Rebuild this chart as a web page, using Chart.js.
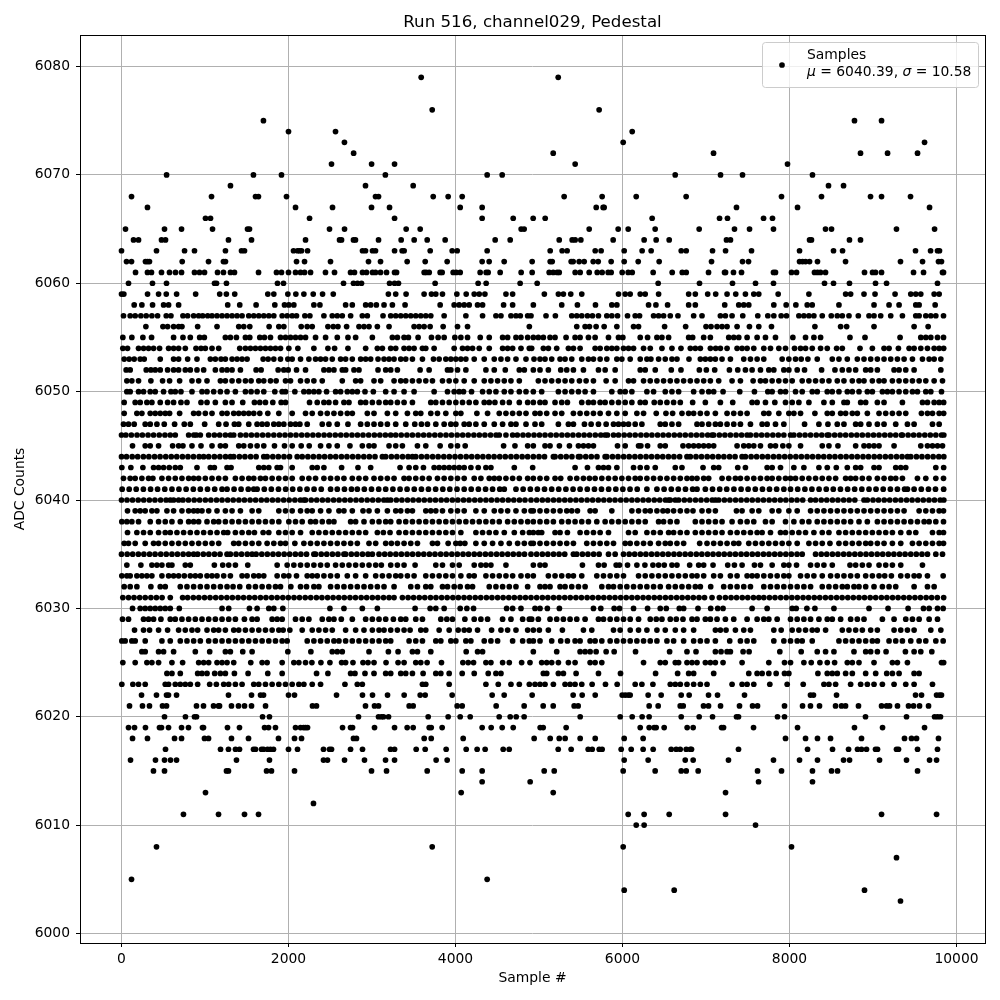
<!DOCTYPE html>
<html>
<head>
<meta charset="utf-8">
<style>body{margin:0;background:#fff}canvas{display:block}</style>
<script src="https://cdn.jsdelivr.net/npm/chart.js@4"></script>
</head>
<body>
<canvas id="myChart" width="1000" height="1000"></canvas>
<script>
const titleText = 'Run 516, channel029, Pedestal';
const xLabel = 'Sample #';
const yLabel = 'ADC Counts';
const xTicks = [0, 2000, 4000, 6000, 8000, 10000];
const yTicks = [6000, 6010, 6020, 6030, 6040, 6050, 6060, 6070, 6080];

// sample numbers, one list per ADC level
const s6079 = [3589, 5230];
const s6076 = [3721, 5720];
const s6075 = [1700, 8778, 9102];
const s6074 = [2000, 2563, 6116];
const s6073 = [2670, 6008, 9617];
const s6072 = [2780, 5170, 7090, 8850, 9174, 9533];
const s6071 = [2515, 2995, 3270, 5433, 7976];
const s6070 = [540, 1580, 1916, 3160, 4379, 4559, 6631, 7174, 7437, 8275];
const s6069 = [1305, 2922, 3493, 8467, 8647];
const s6068 = [120, 1078, 1605, 1640, 1976, 3042, 3078, 3733, 3912, 4080, 5301, 5756, 6164, 6762, 7904, 8383, 8970, 9102, 9449];
const s6067 = [311, 2084, 2527, 2994, 3210, 4056, 4319, 5685, 5768, 5780, 7365, 8096, 9677];
const s6066 = [1006, 1066, 2252, 3270, 4319, 4691, 4930, 5074, 6355, 7162, 7257, 7689, 7796];
const s6065 = [48, 515, 719, 1090, 1509, 1533, 2491, 2671, 3409, 3577, 4786, 4822, 5601, 5948, 6068, 6391, 6918, 7341, 7521, 7808, 8431, 8503, 9281, 9737];
const s6064 = [144, 204, 479, 527, 1281, 1557, 2204, 2611, 2635, 2778, 2802, 3078, 3349, 3505, 3661, 3876, 4475, 4655, 5242, 5397, 5433, 5501, 5888, 6259, 6403, 6559, 7245, 7293, 8240, 8263, 8718, 8850];
const s6063 = [0, 419, 755, 874, 1245, 1437, 1473, 2060, 2108, 2132, 2156, 2228, 2886, 2922, 3006, 3042, 3270, 3361, 3385, 3697, 3960, 4020, 4379, 5134, 5277, 5337, 5673, 5744, 6020, 6235, 6343, 6703, 6763, 7078, 7234, 7545, 8120, 8527, 8635, 9509, 9689, 9772, 9796];
const s6062 = [60, 120, 287, 311, 335, 727, 1042, 1221, 1245, 2096, 2192, 2503, 2958, 3102, 3421, 3637, 3900, 4319, 4403, 4583, 4918, 5134, 5158, 5385, 5409, 5481, 5541, 5649, 5709, 5864, 6020, 6188, 6439, 7066, 7437, 7509, 8120, 8156, 8192, 8240, 8335, 8671, 9329, 9593, 9784, 9820];
const s6061 = [168, 311, 359, 479, 575, 647, 719, 874, 934, 994, 1150, 1221, 1305, 1353, 1641, 1856, 1916, 2000, 2084, 2144, 2192, 2264, 2443, 2551, 2743, 2790, 2886, 2934, 3006, 3042, 3102, 3174, 3270, 3294, 3625, 3649, 3685, 3816, 3840, 3972, 4008, 4056, 4295, 4367, 4391, 4535, 4786, 4918, 5122, 5170, 5217, 5242, 5433, 5493, 5601, 5697, 5756, 5828, 5864, 5996, 6068, 6116, 6367, 6595, 6715, 6763, 7030, 7222, 7234, 7329, 7425, 7808, 7832, 8024, 8084, 8299, 8335, 8371, 8431, 8898, 8994, 9030, 9102, 9485, 9605, 9832, 9844];
const s6060 = [84, 371, 539, 1114, 1138, 1257, 1868, 1940, 2659, 2778, 2826, 2874, 3210, 3270, 3317, 3756, 4271, 4367, 4774, 4978, 6427, 6922, 7317, 7593, 7808, 8419, 8527, 8718, 9030, 9162, 9772];
const s6059 = [0, 28, 312, 444, 536, 660, 888, 1176, 1256, 1356, 1752, 1824, 1992, 2088, 2184, 2296, 2408, 2536, 3196, 3284, 3408, 3624, 3712, 3764, 3844, 4016, 4128, 4224, 4284, 4352, 4604, 4684, 5064, 5232, 5292, 5380, 5512, 5952, 6032, 6092, 6212, 6272, 6432, 6792, 6872, 7020, 7116, 7252, 7356, 7472, 7572, 7632, 7864, 8232, 8672, 8732, 8892, 9024, 9264, 9452, 9512, 9572, 9732, 9792];
const s6058 = [152, 244, 372, 504, 564, 684, 1272, 1416, 1612, 1836, 1952, 2004, 2064, 2304, 2376, 2684, 2764, 2924, 2984, 3052, 3144, 3244, 3396, 3816, 3984, 4044, 4104, 4164, 4264, 4324, 4576, 4684, 4932, 5272, 5460, 5676, 5872, 5932, 6312, 6400, 6540, 6792, 6872, 7224, 7392, 7452, 7512, 7812, 7960, 8076, 8212, 8272, 8592, 9012, 9192, 9312, 9512, 9552, 9744];
const s6057 = [24, 104, 164, 232, 296, 364, 432, 536, 592, 736, 792, 864, 924, 972, 1032, 1084, 1144, 1204, 1264, 1324, 1384, 1444, 1524, 1584, 1644, 1704, 1764, 1824, 1924, 1984, 2044, 2096, 2196, 2256, 2424, 2524, 2584, 2644, 2744, 2884, 2944, 3132, 3224, 3284, 3344, 3404, 3464, 3524, 3584, 3644, 3704, 3864, 4124, 4324, 4484, 4544, 4664, 4724, 4776, 4864, 4904, 5084, 5196, 5392, 5452, 5512, 5580, 5640, 5712, 5812, 5872, 5940, 6060, 6152, 6204, 6372, 6432, 6492, 6572, 6664, 6852, 6952, 7172, 7232, 7312, 7440, 7620, 7740, 7812, 7900, 7964, 8112, 8172, 8232, 8292, 8392, 8500, 8572, 8632, 8712, 8824, 8952, 9012, 9092, 9212, 9352, 9512, 9552, 9632, 9692, 9752, 9844];
const s6056 = [292, 496, 552, 624, 684, 724, 912, 1144, 1404, 1464, 1536, 1768, 1884, 1944, 2152, 2224, 2284, 2472, 2536, 2592, 2696, 2844, 2904, 2964, 3064, 3204, 3504, 3564, 3624, 3696, 3852, 4024, 4144, 4884, 5452, 5552, 5604, 5684, 5780, 5932, 6132, 6192, 6504, 6756, 7000, 7060, 7132, 7192, 7252, 7372, 7520, 7632, 7784, 8304, 8612, 8684, 9012, 9492, 9660];
const s6055 = [16, 124, 256, 360, 624, 736, 824, 936, 992, 1244, 1304, 1376, 1484, 1536, 1656, 1712, 1784, 1904, 1964, 2024, 2084, 2144, 2204, 2324, 2444, 2584, 2712, 2804, 3004, 3244, 3304, 3384, 3436, 3552, 3712, 3792, 3864, 3992, 4064, 4144, 4296, 4404, 4564, 4624, 4724, 4784, 4864, 4932, 4992, 5052, 5132, 5192, 5324, 5432, 5492, 5592, 5672, 5832, 5952, 6004, 6212, 6300, 6412, 6472, 6552, 6792, 6840, 6972, 7052, 7272, 7332, 7392, 7492, 7612, 7712, 7832, 8040, 8192, 8292, 8372, 8724, 8904, 9324, 9572, 9632, 9692, 9772, 9844];
const s6054 = [16, 72, 204, 264, 324, 384, 456, 564, 624, 684, 764, 892, 952, 1004, 1084, 1164, 1416, 1484, 1544, 1604, 1664, 1724, 1784, 1844, 1904, 2004, 2112, 2304, 2472, 2552, 2712, 2924, 3064, 3124, 3224, 3284, 3384, 3444, 3504, 3604, 3644, 3744, 3984, 4084, 4144, 4204, 4284, 4404, 4564, 4624, 4684, 4784, 4884, 4912, 5052, 5112, 5212, 5352, 5412, 5492, 5672, 5732, 5812, 5872, 5932, 6012, 6072, 6132, 6252, 6332, 6472, 6592, 6700, 6812, 6872, 6932, 7052, 7116, 7172, 7252, 7372, 7432, 7492, 7572, 7692, 7772, 7872, 7952, 8060, 8132, 8192, 8272, 8372, 8452, 8564, 8632, 8844, 8992, 9132, 9192, 9304, 9432, 9492, 9572, 9652, 9732, 9792, 9846];
const s6053 = [32, 92, 152, 224, 272, 464, 624, 684, 792, 904, 1064, 1124, 1192, 1244, 1324, 1384, 1444, 1504, 1696, 1756, 1824, 1904, 1992, 2044, 2144, 2244, 2324, 2384, 2444, 2524, 2624, 2684, 2764, 2864, 2924, 2984, 3072, 3144, 3204, 3264, 3344, 3404, 3484, 3604, 3736, 3804, 3884, 3944, 4004, 4064, 4124, 4224, 4344, 4464, 4544, 4624, 4724, 4844, 4940, 5012, 5072, 5152, 5252, 5312, 5392, 5512, 5592, 5652, 5732, 5812, 5932, 5992, 6092, 6212, 6292, 6340, 6432, 6512, 6592, 6652, 6796, 6932, 6992, 7052, 7112, 7192, 7292, 7452, 7532, 7612, 7692, 7912, 7992, 8072, 8140, 8220, 8332, 8512, 8592, 8692, 8812, 8892, 8972, 9052, 9132, 9212, 9292, 9372, 9472, 9592, 9672, 9732, 9812];
const s6052 = [56, 104, 296, 352, 404, 464, 552, 624, 684, 764, 824, 904, 984, 1124, 1204, 1264, 1324, 1424, 1612, 1672, 1876, 1944, 1996, 2096, 2204, 2424, 2484, 2544, 2644, 2684, 2784, 2844, 3072, 3164, 3224, 3304, 3576, 3684, 3904, 3944, 4024, 4124, 4364, 4464, 4596, 4764, 4824, 4932, 5012, 5112, 5260, 5332, 5412, 5532, 5712, 5792, 5912, 6212, 6272, 6392, 6584, 6700, 6920, 7004, 7104, 7280, 7380, 7472, 7552, 7652, 7752, 7812, 7932, 7992, 8092, 8180, 8384, 8544, 8632, 8712, 8792, 8912, 8972, 9052, 9252, 9312, 9392, 9492, 9812];
const s6051 = [64, 124, 204, 352, 492, 576, 696, 844, 924, 1024, 1184, 1244, 1324, 1404, 1484, 1552, 1644, 1704, 1784, 1852, 1964, 2024, 2144, 2224, 2304, 2404, 2644, 2804, 2864, 3024, 3104, 3264, 3344, 3404, 3484, 3564, 3644, 3724, 3844, 3924, 4004, 4104, 4224, 4344, 4424, 4504, 4584, 4664, 4764, 4992, 5072, 5152, 5232, 5312, 5392, 5484, 5564, 5652, 5804, 5912, 6072, 6132, 6252, 6332, 6412, 6492, 6572, 6652, 6732, 6812, 6892, 6972, 7052, 7152, 7312, 7412, 7564, 7652, 7712, 7792, 7872, 7952, 8032, 8152, 8232, 8312, 8392, 8472, 8572, 8652, 8752, 8832, 8892, 8992, 9072, 9132, 9232, 9312, 9392, 9472, 9552, 9632, 9732, 9832];
const s6050 = [64, 104, 204, 264, 344, 404, 504, 592, 644, 712, 844, 964, 1024, 1104, 1184, 1264, 1364, 1484, 1552, 1624, 1704, 1836, 1924, 1964, 2076, 2184, 2244, 2304, 2364, 2456, 2564, 2624, 2704, 2764, 2824, 2916, 3016, 3164, 3264, 3384, 3504, 3744, 3904, 3984, 4044, 4096, 4192, 4324, 4404, 4484, 4584, 4664, 4764, 4844, 4932, 5032, 5232, 5312, 5392, 5472, 5552, 5652, 5872, 5972, 6032, 6112, 6292, 6372, 6512, 6592, 6672, 6852, 6952, 7032, 7092, 7204, 7404, 7580, 7740, 7792, 7892, 7952, 8072, 8152, 8272, 8332, 8452, 8512, 8592, 8692, 8752, 8832, 8932, 8992, 9112, 9172, 9232, 9312, 9392, 9472, 9532, 9632, 9692, 9820];
const s6049 = [32, 164, 224, 304, 364, 464, 552, 624, 712, 784, 952, 1024, 1124, 1244, 1324, 1452, 1592, 1656, 1724, 1812, 1912, 1964, 2252, 2344, 2424, 2484, 2564, 2664, 2724, 2864, 2924, 3004, 3084, 3164, 3224, 3304, 3384, 3484, 3704, 3764, 3844, 3924, 4004, 4084, 4164, 4244, 4344, 4404, 4472, 4564, 4644, 4764, 4864, 4932, 5012, 5072, 5192, 5272, 5340, 5512, 5592, 5652, 5732, 5792, 5872, 5952, 6032, 6112, 6212, 6272, 6380, 6452, 6532, 6612, 6692, 6840, 6992, 7172, 7320, 7552, 7612, 7712, 7824, 7952, 8032, 8112, 8232, 8412, 8512, 8652, 8692, 8852, 8912, 9052, 9132, 9352, 9592, 9652, 9732, 9792, 9846];
const s6048 = [32, 184, 244, 344, 404, 464, 524, 576, 696, 864, 924, 1004, 1084, 1204, 1264, 1344, 1404, 1464, 1524, 1584, 1656, 1752, 1884, 2044, 2204, 2284, 2384, 2464, 2544, 2624, 2704, 2764, 2944, 3024, 3184, 3284, 3424, 3524, 3584, 3704, 3784, 3884, 4004, 4064, 4256, 4384, 4524, 4604, 4684, 4764, 4844, 4952, 5012, 5092, 5192, 5272, 5412, 5492, 5572, 5652, 5732, 5832, 5932, 6032, 6172, 6252, 6404, 6520, 6600, 6712, 6792, 6852, 6932, 7012, 7112, 7252, 7332, 7412, 7492, 7692, 7752, 7872, 7992, 8052, 8132, 8304, 8452, 8512, 8612, 8672, 8752, 8812, 8932, 9072, 9152, 9232, 9312, 9392, 9580, 9652, 9712, 9792, 9846];
const s6047 = [24, 84, 152, 284, 344, 424, 512, 636, 752, 824, 996, 1164, 1252, 1352, 1404, 1524, 1624, 1684, 1744, 1824, 1884, 1944, 2024, 2084, 2136, 2224, 2404, 2484, 2584, 2712, 2864, 2944, 3024, 3104, 3184, 3284, 3404, 3512, 3592, 3664, 3764, 3864, 3944, 4004, 4104, 4164, 4244, 4344, 4464, 4564, 4664, 4724, 4844, 4952, 5032, 5232, 5352, 5412, 5544, 5624, 5712, 5804, 5892, 5952, 6012, 6072, 6152, 6232, 6452, 6512, 6592, 6672, 6892, 6952, 7032, 7112, 7172, 7252, 7332, 7412, 7532, 7672, 7732, 7832, 7932, 8180, 8352, 8460, 8572, 8652, 8792, 8852, 8952, 9052, 9132, 9272, 9412, 9492, 9712, 9792];
const s6046 = [0, 52, 118, 186, 250, 318, 384, 452, 520, 584, 644, 804, 866, 896, 944, 1044, 1112, 1176, 1244, 1304, 1344, 1424, 1490, 1556, 1622, 1690, 1756, 1824, 1892, 1958, 2024, 2090, 2158, 2224, 2292, 2358, 2426, 2492, 2560, 2626, 2692, 2760, 2826, 2892, 2960, 3028, 3094, 3160, 3224, 3284, 3350, 3418, 3484, 3552, 3618, 3684, 3752, 3818, 3886, 3952, 4020, 4086, 4152, 4220, 4286, 4352, 4420, 4486, 4524, 4604, 4684, 4740, 4808, 4872, 4940, 5006, 5072, 5140, 5206, 5274, 5340, 5406, 5474, 5540, 5606, 5674, 5740, 5792, 5820, 5892, 5952, 6020, 6086, 6152, 6220, 6286, 6352, 6420, 6486, 6552, 6620, 6686, 6752, 6820, 6886, 6952, 7020, 7072, 7092, 7160, 7226, 7292, 7360, 7426, 7492, 7532, 7600, 7666, 7732, 7800, 7866, 7932, 8012, 8052, 8120, 8186, 8252, 8320, 8386, 8452, 8472, 8540, 8606, 8672, 8740, 8806, 8872, 8940, 9006, 9072, 9140, 9206, 9272, 9340, 9352, 9420, 9486, 9552, 9620, 9686, 9752, 9820, 9848];
const s6045 = [132, 284, 344, 444, 612, 684, 736, 844, 952, 1084, 1184, 1244, 1404, 1464, 1544, 1624, 1704, 1832, 1952, 2044, 2152, 2248, 2384, 2484, 2584, 2736, 2884, 2964, 3024, 3204, 3284, 3364, 3544, 3644, 3816, 3944, 4024, 4116, 4576, 4712, 4864, 4932, 5072, 5132, 5244, 5364, 5472, 5532, 5592, 5652, 5940, 6032, 6192, 6220, 6300, 6452, 6512, 6724, 6792, 6852, 6912, 6972, 7032, 7092, 7372, 7452, 7512, 7572, 7652, 7772, 7832, 7920, 7992, 8132, 8392, 8472, 8580, 8792, 8892, 8952, 9012, 9072, 9252, 9572, 9652, 9712, 9772, 9832];
const s6044 = [0, 60, 128, 194, 262, 328, 396, 462, 530, 596, 662, 730, 796, 862, 930, 984, 1044, 1112, 1178, 1246, 1304, 1344, 1412, 1478, 1546, 1612, 1704, 1744, 1812, 1878, 1946, 2012, 2104, 2164, 2232, 2298, 2366, 2432, 2500, 2566, 2634, 2700, 2768, 2834, 2902, 2968, 3036, 3124, 3164, 3232, 3298, 3366, 3432, 3484, 3524, 3592, 3658, 3726, 3792, 3860, 3926, 3994, 4060, 4128, 4194, 4262, 4328, 4396, 4462, 4530, 4596, 4664, 4730, 4798, 4864, 4932, 5000, 5066, 5172, 5192, 5260, 5326, 5394, 5472, 5492, 5560, 5626, 5694, 5792, 5812, 5880, 5946, 6014, 6080, 6148, 6214, 6282, 6348, 6416, 6482, 6550, 6616, 6684, 6772, 6812, 6880, 6946, 7014, 7080, 7148, 7214, 7282, 7348, 7432, 7472, 7540, 7606, 7674, 7740, 7808, 7874, 7942, 8008, 8076, 8142, 8210, 8276, 8344, 8410, 8478, 8544, 8612, 8678, 8746, 8812, 8880, 8946, 9014, 9080, 9148, 9214, 9282, 9348, 9412, 9452, 9520, 9586, 9654, 9720, 9788, 9848];
const s6043 = [4, 112, 256, 384, 444, 504, 572, 644, 704, 904, 1064, 1112, 1264, 1312, 1644, 1704, 1764, 1864, 1904, 2044, 2284, 2344, 2424, 2636, 2832, 2984, 3336, 3444, 3524, 3616, 3744, 3804, 3864, 3924, 3984, 4044, 4104, 4184, 4272, 4364, 4424, 4704, 4924, 5432, 5580, 5712, 5772, 5832, 5932, 6132, 6212, 6292, 6392, 6632, 6712, 6964, 7092, 7152, 7380, 7472, 7732, 7792, 7892, 8052, 8172, 8352, 8452, 8560, 8692, 8792, 8852, 9012, 9072, 9272, 9332, 9392, 9752, 9846];
const s6042 = [24, 104, 164, 244, 324, 376, 484, 564, 644, 724, 804, 864, 924, 1004, 1084, 1164, 1244, 1364, 1444, 1524, 1584, 1664, 1724, 1804, 1884, 1964, 2044, 2164, 2244, 2324, 2424, 2504, 2584, 2664, 2764, 2844, 2924, 3024, 3104, 3184, 3264, 3384, 3444, 3524, 3604, 3684, 3784, 3864, 3944, 4024, 4104, 4224, 4304, 4404, 4464, 4524, 4604, 4684, 4764, 4864, 4932, 5012, 5092, 5192, 5260, 5372, 5452, 5532, 5604, 5672, 5752, 5832, 5912, 5992, 6072, 6152, 6212, 6292, 6372, 6452, 6532, 6612, 6692, 6772, 6832, 6892, 6972, 7032, 7192, 7272, 7352, 7412, 7492, 7572, 7652, 7732, 7792, 7872, 7952, 8012, 8072, 8152, 8232, 8312, 8392, 8472, 8552, 8672, 8732, 8792, 8872, 8952, 9052, 9132, 9212, 9272, 9352, 9532, 9632, 9752, 9844];
const s6041 = [8, 92, 176, 262, 348, 432, 518, 604, 688, 774, 860, 944, 1030, 1116, 1204, 1264, 1348, 1432, 1518, 1584, 1624, 1710, 1794, 1880, 1966, 2050, 2136, 2222, 2306, 2392, 2504, 2584, 2670, 2754, 2824, 2908, 2994, 3080, 3164, 3250, 3336, 3420, 3506, 3592, 3676, 3762, 3848, 3932, 4018, 4104, 4188, 4274, 4360, 4444, 4530, 4584, 4724, 4810, 4896, 4980, 5066, 5152, 5236, 5322, 5408, 5492, 5578, 5664, 5748, 5834, 5920, 6004, 6090, 6176, 6292, 6412, 6498, 6584, 6668, 6754, 6840, 6892, 6992, 7078, 7164, 7248, 7334, 7420, 7504, 7590, 7676, 7760, 7846, 7932, 8012, 8098, 8184, 8268, 8354, 8440, 8524, 8610, 8696, 8780, 8866, 8952, 9036, 9122, 9208, 9292, 9378, 9412, 9492, 9578, 9664, 9748, 9846];
const s6040 = [0, 66, 132, 200, 266, 334, 400, 468, 534, 584, 624, 684, 736, 802, 870, 936, 1004, 1070, 1138, 1204, 1272, 1338, 1406, 1472, 1540, 1606, 1674, 1740, 1808, 1874, 1942, 2008, 2076, 2142, 2184, 2204, 2272, 2338, 2406, 2472, 2540, 2606, 2674, 2740, 2808, 2874, 2942, 3008, 3076, 3142, 3184, 3224, 3292, 3358, 3426, 3492, 3560, 3626, 3694, 3760, 3828, 3894, 3962, 4028, 4096, 4162, 4230, 4296, 4364, 4430, 4498, 4564, 4632, 4698, 4766, 4832, 4904, 4972, 5040, 5106, 5174, 5240, 5308, 5374, 5442, 5508, 5576, 5642, 5710, 5776, 5844, 5910, 5978, 6044, 6112, 6178, 6246, 6312, 6380, 6446, 6514, 6552, 6572, 6632, 6672, 6740, 6806, 6874, 6940, 7008, 7074, 7112, 7152, 7220, 7286, 7354, 7420, 7488, 7554, 7622, 7688, 7756, 7822, 7890, 7956, 8024, 8090, 8158, 8252, 8312, 8380, 8446, 8514, 8580, 8648, 8714, 8782, 8892, 8932, 9000, 9066, 9134, 9200, 9268, 9334, 9402, 9468, 9536, 9602, 9670, 9736, 9804, 9848];
const s6039 = [72, 164, 224, 284, 364, 424, 544, 624, 724, 804, 864, 912, 964, 1044, 1144, 1244, 1324, 1424, 1564, 1644, 1884, 1964, 2044, 2144, 2224, 2284, 2384, 2484, 2604, 2664, 2764, 2892, 2964, 3064, 3184, 3284, 3344, 3424, 3484, 3644, 3704, 3764, 3844, 3944, 4024, 4104, 4244, 4344, 4464, 4544, 4624, 4724, 4824, 4904, 4932, 5012, 5092, 5172, 5252, 5332, 5392, 5460, 5612, 5672, 5872, 6112, 6192, 6272, 6332, 6412, 6484, 6540, 6612, 6692, 6772, 6844, 6952, 7032, 7112, 7364, 7432, 7552, 7632, 7792, 7872, 7992, 8092, 8252, 8332, 8412, 8492, 8572, 8652, 8732, 8812, 8892, 8972, 9052, 9132, 9212, 9292, 9372, 9552, 9632, 9712, 9792, 9844];
const s6038 = [4, 64, 124, 204, 344, 444, 524, 604, 704, 804, 864, 924, 1024, 1104, 1164, 1244, 1324, 1404, 1484, 1564, 1644, 1724, 1804, 1884, 2004, 2084, 2164, 2264, 2324, 2404, 2484, 2544, 2744, 2804, 2904, 3004, 3084, 3164, 3224, 3324, 3404, 3484, 3564, 3644, 3724, 3804, 3884, 3964, 4044, 4124, 4204, 4284, 4364, 4444, 4524, 4624, 4704, 4784, 4864, 4932, 5012, 5092, 5172, 5272, 5352, 5432, 5512, 5592, 5692, 5792, 5872, 5952, 6032, 6112, 6192, 6272, 6432, 6492, 6572, 6652, 6872, 6952, 7032, 7112, 7192, 7312, 7412, 7492, 7572, 7712, 7792, 7952, 8052, 8152, 8232, 8332, 8412, 8492, 8572, 8652, 8732, 8832, 8932, 9052, 9132, 9212, 9292, 9372, 9452, 9532, 9612, 9672, 9752, 9844];
const s6037 = [72, 184, 264, 344, 444, 524, 584, 664, 744, 824, 904, 984, 1064, 1144, 1224, 1272, 1364, 1444, 1524, 1592, 1696, 1764, 1884, 1964, 2044, 2144, 2284, 2364, 2444, 2524, 2604, 2684, 2764, 2844, 2924, 3064, 3136, 3216, 3324, 3404, 3484, 3564, 3644, 3724, 3804, 3884, 3964, 4064, 4244, 4324, 4404, 4484, 4584, 4704, 4804, 4884, 4932, 4992, 5032, 5192, 5252, 5340, 5492, 5572, 5652, 5732, 5832, 6072, 6152, 6292, 6372, 6452, 6552, 6612, 6692, 6772, 6872, 6952, 7032, 7112, 7192, 7292, 7372, 7452, 7532, 7612, 7672, 7772, 7892, 7952, 8032, 8112, 8192, 8292, 8392, 8472, 8592, 8672, 8752, 8832, 8912, 8992, 9072, 9152, 9232, 9332, 9432, 9512, 9712, 9792, 9844];
const s6036 = [32, 84, 164, 284, 384, 444, 524, 604, 684, 764, 844, 924, 1004, 1084, 1164, 1344, 1404, 1484, 1564, 1644, 1744, 1824, 1904, 1964, 2076, 2184, 2264, 2344, 2424, 2504, 2584, 2664, 2744, 2824, 2964, 3044, 3164, 3232, 3304, 3384, 3464, 3544, 3724, 3784, 3912, 4004, 4056, 4112, 4244, 4344, 4444, 4544, 4644, 4744, 4824, 4904, 4932, 5012, 5092, 5172, 5252, 5332, 5412, 5572, 5652, 5732, 5812, 5892, 6032, 6092, 6172, 6252, 6332, 6432, 6512, 6572, 6652, 6732, 6924, 7012, 7092, 7172, 7252, 7332, 7392, 7512, 7592, 7672, 7752, 7832, 7912, 7992, 8092, 8232, 8312, 8392, 8484, 8592, 8672, 8752, 8832, 8912, 8972, 9052, 9132, 9232, 9332, 9472, 9552, 9632, 9712, 9792, 9844];
const s6035 = [0, 68, 134, 202, 268, 336, 402, 470, 536, 604, 670, 738, 804, 864, 912, 980, 1046, 1114, 1180, 1264, 1304, 1372, 1438, 1506, 1564, 1612, 1680, 1746, 1814, 1880, 1948, 2014, 2082, 2148, 2216, 2304, 2324, 2392, 2458, 2526, 2592, 2664, 2684, 2752, 2818, 2886, 2952, 3004, 3084, 3152, 3218, 3286, 3352, 3420, 3486, 3554, 3620, 3688, 3754, 3822, 3888, 3956, 4022, 4090, 4156, 4224, 4290, 4358, 4424, 4492, 4558, 4626, 4692, 4760, 4826, 4904, 4972, 5040, 5106, 5174, 5240, 5308, 5412, 5452, 5520, 5586, 5654, 5720, 5832, 5912, 6012, 6080, 6146, 6214, 6280, 6348, 6414, 6482, 6548, 6616, 6682, 6750, 6816, 6884, 6950, 7018, 7084, 7152, 7218, 7286, 7352, 7420, 7486, 7554, 7620, 7688, 7754, 7822, 7888, 7956, 8022, 8090, 8152, 8312, 8380, 8446, 8514, 8580, 8648, 8714, 8782, 8848, 8916, 8982, 9050, 9116, 9184, 9250, 9318, 9384, 9452, 9518, 9586, 9652, 9752, 9832];
const s6034 = [64, 232, 364, 424, 484, 564, 604, 764, 824, 1112, 1212, 1284, 1364, 1512, 1864, 1984, 2064, 2144, 2224, 2304, 2384, 2464, 2564, 2644, 2724, 2804, 2884, 2964, 3044, 3112, 3224, 3304, 3384, 3516, 3764, 3844, 3964, 4044, 4224, 4304, 4364, 4424, 4604, 4932, 5012, 5072, 5520, 5712, 5780, 5924, 5964, 6060, 6172, 6268, 6364, 6432, 6500, 6592, 6652, 6804, 6912, 6972, 7084, 7260, 7340, 7432, 7580, 7652, 7792, 7932, 7992, 8084, 8252, 8332, 8412, 8512, 8724, 8792, 8872, 8952, 9072, 9152, 9232, 9332, 9592];
const s6033 = [4, 64, 104, 184, 244, 304, 364, 484, 564, 624, 684, 752, 824, 884, 944, 1024, 1084, 1144, 1224, 1304, 1444, 1504, 1584, 1644, 1704, 1864, 1944, 2004, 2096, 2224, 2284, 2344, 2424, 2504, 2584, 2704, 2804, 2924, 3044, 3124, 3204, 3284, 3344, 3424, 3504, 3644, 3724, 3804, 3884, 3964, 4064, 4164, 4224, 4364, 4444, 4524, 4604, 4684, 4784, 4864, 4932, 5112, 5192, 5272, 5352, 5412, 5512, 5692, 5772, 5852, 5932, 6012, 6192, 6272, 6352, 6432, 6512, 6592, 6672, 6752, 6832, 6892, 6972, 7092, 7172, 7292, 7372, 7492, 7552, 7612, 7692, 7772, 7852, 7932, 7992, 8132, 8212, 8292, 8392, 8492, 8572, 8652, 8732, 8812, 8912, 8992, 9072, 9140, 9220, 9332, 9412, 9492, 9552, 9652, 9840];
const s6032 = [32, 104, 184, 352, 464, 524, 704, 784, 864, 944, 1024, 1104, 1184, 1264, 1336, 1416, 1524, 1604, 1684, 1764, 1844, 1904, 2028, 2144, 2216, 2304, 2364, 2504, 2584, 2664, 2744, 2824, 2904, 2984, 3064, 3144, 3264, 3464, 3544, 3644, 3704, 3844, 3904, 3984, 4056, 4144, 4204, 4404, 4484, 4564, 4644, 4724, 4864, 5012, 5072, 5132, 5252, 5312, 5392, 5472, 5552, 5752, 5832, 5892, 5972, 6052, 6132, 6212, 6292, 6372, 6452, 6552, 6632, 6712, 6792, 6872, 6932, 7056, 7212, 7292, 7372, 7452, 7532, 7692, 7772, 7852, 7932, 8012, 8092, 8172, 8252, 8392, 8472, 8552, 8632, 8692, 8772, 8832, 8912, 9012, 9112, 9192, 9272, 9492, 9652, 9732];
const s6031 = [16, 84, 150, 218, 284, 352, 418, 486, 584, 732, 792, 860, 926, 994, 1060, 1128, 1194, 1262, 1328, 1396, 1462, 1530, 1596, 1664, 1730, 1798, 1864, 1932, 1998, 2066, 2132, 2200, 2266, 2334, 2400, 2468, 2534, 2602, 2668, 2736, 2802, 2870, 2936, 3004, 3070, 3138, 3204, 3264, 3364, 3432, 3498, 3566, 3632, 3700, 3766, 3834, 3900, 3968, 4034, 4102, 4168, 4236, 4302, 4370, 4436, 4504, 4570, 4638, 4704, 4772, 4838, 4904, 4972, 5040, 5106, 5174, 5240, 5308, 5374, 5442, 5508, 5576, 5642, 5710, 5776, 5844, 5910, 5978, 6044, 6112, 6178, 6246, 6312, 6380, 6446, 6514, 6580, 6648, 6714, 6782, 6848, 6916, 6982, 7072, 7160, 7232, 7300, 7366, 7434, 7500, 7568, 7632, 7692, 7760, 7826, 7894, 7960, 8028, 8094, 8162, 8228, 8296, 8362, 8430, 8496, 8564, 8630, 8698, 8764, 8832, 8898, 8966, 9032, 9100, 9166, 9234, 9300, 9368, 9434, 9502, 9568, 9636, 9702, 9770, 9846];
const s6030 = [132, 224, 284, 344, 404, 464, 524, 584, 692, 1204, 1284, 1532, 1624, 1764, 1824, 1932, 2496, 2664, 2884, 3064, 3516, 3696, 3764, 3864, 4056, 4136, 4216, 4612, 4684, 4784, 4952, 5012, 5100, 5244, 5652, 5740, 5900, 5964, 6132, 6300, 6452, 6524, 6680, 6732, 6904, 7056, 7140, 7204, 7552, 7732, 8032, 8080, 8208, 8304, 8532, 8952, 9180, 9420, 9604, 9672, 9772, 9840];
const s6029 = [12, 84, 264, 324, 384, 472, 584, 644, 724, 804, 884, 964, 1044, 1124, 1204, 1284, 1364, 1472, 1564, 1624, 1804, 1864, 1924, 2084, 2164, 2244, 2404, 2484, 2544, 2632, 2764, 2924, 3004, 3084, 3164, 3256, 3344, 3404, 3524, 3604, 3824, 3896, 3964, 4112, 4224, 4304, 4384, 4564, 4664, 4804, 4884, 4912, 4992, 5132, 5212, 5292, 5372, 5452, 5552, 5712, 5772, 5852, 5932, 6012, 6092, 6192, 6332, 6404, 6472, 6572, 6644, 6724, 6832, 6892, 6992, 7052, 7132, 7232, 7332, 7492, 7612, 7692, 7752, 7852, 8012, 8092, 8172, 8252, 8352, 8452, 8512, 8612, 8732, 8812, 8892, 9112, 9252, 9392, 9472, 9552, 9672, 9772];
const s6028 = [156, 264, 336, 444, 552, 684, 764, 844, 912, 1024, 1104, 1164, 1244, 1344, 1404, 1484, 1564, 1644, 1724, 1804, 1884, 1936, 2016, 2164, 2284, 2364, 2444, 2524, 2684, 2804, 2904, 3004, 3084, 3144, 3224, 3304, 3384, 3456, 3584, 3644, 3804, 3924, 4032, 4104, 4164, 4264, 4432, 4544, 4624, 4724, 4864, 4932, 5004, 5112, 5280, 5532, 5632, 5892, 5972, 6092, 6192, 6292, 6412, 6512, 6632, 6732, 6852, 7112, 7172, 7240, 7352, 7452, 7532, 7812, 7900, 8032, 8112, 8192, 8272, 8332, 8432, 8632, 8712, 8792, 8872, 8972, 9052, 9252, 9332, 9412, 9492, 9692, 9812];
const s6027 = [4, 44, 124, 164, 284, 484, 584, 704, 784, 864, 944, 1044, 1124, 1204, 1284, 1364, 1444, 1524, 1604, 1684, 1764, 1844, 1924, 1984, 2224, 2304, 2384, 2464, 2544, 2604, 2684, 2764, 2844, 2924, 3004, 3084, 3164, 3224, 3444, 3524, 3604, 3764, 3824, 3944, 4004, 4124, 4184, 4344, 4424, 4504, 4684, 4804, 4884, 4932, 5012, 5152, 5260, 5340, 5432, 5492, 5612, 5672, 5752, 5852, 5932, 6012, 6092, 6172, 6252, 6332, 6412, 6532, 6612, 6732, 6852, 6932, 7012, 7112, 7284, 7412, 7492, 7572, 7812, 7932, 8012, 8092, 8152, 8272, 8592, 8672, 8752, 8832, 8912, 8992, 9052, 9192, 9272, 9352, 9452, 9552, 9632, 9752, 9840];
const s6026 = [244, 284, 444, 504, 624, 884, 1056, 1244, 1304, 1452, 1564, 1992, 2268, 2524, 2584, 2644, 2964, 3196, 3312, 3484, 3544, 3704, 4128, 4264, 4324, 4932, 5212, 5492, 5552, 5612, 5684, 5804, 5900, 6156, 6564, 6772, 6880, 7112, 7180, 7252, 7292, 7444, 7516, 7884, 8140, 8332, 8432, 8532, 8772, 8912, 8972, 9052, 9156, 9388, 9492, 9572, 9704];
const s6025 = [16, 164, 304, 364, 444, 604, 732, 924, 984, 1044, 1144, 1204, 1264, 1344, 1548, 1684, 1744, 1924, 2064, 2124, 2204, 2280, 2388, 2496, 2636, 2684, 2772, 2892, 2952, 3024, 3168, 3312, 3384, 3524, 3584, 3660, 3832, 4088, 4152, 4216, 4364, 4424, 4564, 4644, 4792, 4892, 5032, 5092, 5152, 5232, 5352, 5432, 5612, 5672, 5752, 6252, 6452, 6512, 6632, 6672, 6772, 6832, 6892, 6992, 7052, 7112, 7204, 7432, 7752, 7940, 8012, 8172, 8260, 8364, 8452, 8540, 8692, 8752, 8832, 9012, 9232, 9292, 9412, 9820, 9846];
const s6024 = [544, 604, 704, 912, 964, 1024, 1116, 1184, 1244, 1352, 1516, 1752, 1924, 2336, 2472, 2744, 2796, 2916, 3024, 3164, 3224, 3344, 3404, 3484, 3612, 3764, 3824, 3924, 4080, 4224, 4392, 4484, 4544, 5052, 5092, 5232, 5292, 5444, 5712, 5976, 6396, 6660, 6792, 6852, 7092, 7512, 7612, 7672, 7752, 7840, 7940, 7992, 8340, 8452, 8512, 8572, 8672, 8752, 8912, 9032, 9164, 9232, 9312, 9492, 9552];
const s6023 = [4, 136, 204, 284, 524, 564, 644, 704, 764, 824, 912, 1056, 1136, 1224, 1284, 1364, 1444, 1584, 1644, 1724, 1804, 1884, 1964, 2044, 2124, 2184, 2284, 2384, 2676, 2824, 2884, 3604, 3644, 3924, 4364, 4512, 4664, 4764, 4884, 4952, 5012, 5072, 5172, 5312, 5372, 5432, 5512, 5636, 5796, 5936, 6152, 6232, 6364, 6572, 6632, 6692, 6772, 6852, 6932, 7012, 7312, 7432, 7492, 7572, 7764, 7972, 8164, 8412, 8472, 8552, 8732, 8852, 8932, 9012, 9112, 9252, 9392, 9492, 9712];
const s6022 = [240, 419, 539, 563, 659, 1281, 1557, 1665, 1701, 2000, 2072, 2575, 2886, 3006, 3186, 3385, 3577, 3637, 3960, 4439, 4583, 4918, 5409, 5517, 5673, 5996, 6032, 6068, 6092, 6307, 6463, 6703, 6798, 7030, 7138, 7461, 8251, 8287, 8563, 9509, 9581, 9761, 9796, 9820];
const s6021 = [96, 251, 335, 491, 539, 898, 982, 1102, 1162, 1174, 1317, 1401, 1473, 1557, 1725, 2287, 2335, 2922, 3030, 3078, 3445, 3493, 4020, 4080, 4487, 4822, 5050, 5170, 5421, 5469, 6319, 6427, 6691, 6727, 6970, 7030, 7174, 7401, 7557, 7617, 7940, 8156, 8251, 8359, 8551, 8623, 8671, 8826, 9102, 9162, 9198, 9293, 9425, 9485, 9557, 9665];
const s6020 = [515, 766, 874, 898, 1689, 1772, 2838, 3078, 3114, 3138, 3198, 3673, 3912, 4056, 4176, 4523, 4655, 4727, 4822, 5493, 5972, 6116, 6235, 6319, 6703, 6918, 7078, 7365, 7389, 7856, 7940, 8910, 9401, 9737, 9772, 9808];
const s6019 = [84, 156, 287, 455, 479, 563, 719, 802, 970, 982, 1269, 1413, 1713, 1761, 1844, 2084, 2144, 2180, 2204, 2228, 2647, 2743, 2767, 3030, 3270, 3421, 3493, 3685, 3709, 3840, 4319, 4427, 4559, 4691, 5014, 5050, 5325, 6212, 6319, 6379, 6403, 6499, 6774, 6846, 7186, 7210, 7569, 8096, 8778, 9114, 9617];
const s6018 = [132, 311, 635, 719, 994, 1042, 1317, 1521, 1880, 2072, 2156, 2778, 2814, 3625, 3709, 4092, 4942, 5134, 5242, 5313, 5493, 5673, 6020, 6247, 7952, 8192, 8335, 8491, 8862, 9377, 9461, 9521, 9784];
const s6017 = [527, 1186, 1281, 1365, 1413, 1581, 1605, 1677, 1701, 1749, 1784, 1820, 2000, 2108, 2419, 2491, 2515, 2743, 2886, 3222, 3270, 3529, 3637, 3888, 4128, 4259, 4355, 4571, 4643, 5230, 5385, 5589, 5637, 5721, 5756, 5984, 6104, 6247, 6367, 6583, 6643, 6691, 6763, 6811, 6826, 7389, 8216, 8515, 8707, 8814, 8862, 8922, 9030, 9054, 9281, 9305, 9533, 9772];
const s6016 = [108, 407, 515, 587, 659, 1377, 1772, 2419, 2467, 2671, 2910, 3162, 3270, 3768, 3900, 6020, 6307, 6751, 6846, 7269, 7808, 8120, 8335, 8647, 8719, 9078, 9401, 9677, 9761];
const s6015 = [383, 515, 1257, 1281, 1737, 1796, 2072, 2994, 3174, 3661, 4080, 4319, 5062, 5182, 6008, 6391, 6703, 6763, 6906, 7617, 7904, 8275, 8503, 8575, 9533];
const s6014 = [4319, 4894, 7629, 8275];
const s6013 = [1006, 4068, 5170, 7234];
const s6012 = [2299];
const s6011 = [742, 1162, 1473, 1641, 6068, 6259, 6559, 7234, 9102, 9761];
const s6010 = [6164, 6259, 7593];
const s6008 = [419, 3721, 6008, 8024];
const s6007 = [9281];
const s6005 = [120, 4379];
const s6004 = [6020, 6619, 8898];
const s6003 = [9329];

const levels = [6079, 6076, 6075, 6074, 6073, 6072, 6071, 6070, 6069, 6068, 6067, 6066, 6065, 6064, 6063, 6062, 6061, 6060, 6059, 6058, 6057, 6056, 6055, 6054, 6053, 6052, 6051, 6050, 6049, 6048, 6047, 6046, 6045, 6044, 6043, 6042, 6041, 6040, 6039, 6038, 6037, 6036, 6035, 6034, 6033, 6032, 6031, 6030, 6029, 6028, 6027, 6026, 6025, 6024, 6023, 6022, 6021, 6020, 6019, 6018, 6017, 6016, 6015, 6014, 6013, 6012, 6011, 6010, 6008, 6007, 6005, 6004, 6003];
const rows = [s6079, s6076, s6075, s6074, s6073, s6072, s6071, s6070, s6069, s6068, s6067, s6066, s6065, s6064, s6063, s6062, s6061, s6060, s6059, s6058, s6057, s6056, s6055, s6054, s6053, s6052, s6051, s6050, s6049, s6048, s6047, s6046, s6045, s6044, s6043, s6042, s6041, s6040, s6039, s6038, s6037, s6036, s6035, s6034, s6033, s6032, s6031, s6030, s6029, s6028, s6027, s6026, s6025, s6024, s6023, s6022, s6021, s6020, s6019, s6018, s6017, s6016, s6015, s6014, s6013, s6012, s6011, s6010, s6008, s6007, s6005, s6004, s6003];

const points = [];
levels.forEach((level, i) => rows[i].forEach(x => points.push({x: x, y: level})));

const FONT = '"DejaVu Sans"';

// spines plus the legend box (matplotlib look)
const frame = {
  id: 'frame',
  afterLayout(chart) {
    // title sits over the axes, not over the whole canvas
    chart.titleBlock.left = chart.chartArea.left;
    chart.titleBlock.right = chart.chartArea.right;
  },
  afterDraw(chart) {
    const ctx = chart.ctx, a = chart.chartArea;
    ctx.save();
    ctx.strokeStyle = '#000';
    ctx.lineWidth = 1;
    ctx.strokeRect(a.left + 0.5, a.top + 0.5, a.right - a.left, a.bottom - a.top);

    ctx.beginPath();
    ctx.roundRect(762.5, 42.5, 216, 45, 3);
    ctx.fillStyle = 'rgba(255,255,255,0.8)';
    ctx.fill();
    ctx.strokeStyle = '#cccccc';
    ctx.stroke();

    ctx.fillStyle = '#000';
    ctx.beginPath();
    ctx.arc(782, 65, 2.85, 0, Math.PI * 2);
    ctx.fill();

    ctx.textBaseline = 'alphabetic';
    ctx.textAlign = 'left';
    ctx.font = '13.89px ' + FONT;
    ctx.fillText('Samples', 807, 59);
    let x = 807;
    [['\u03bc', true], [' = 6040.39, ', false], ['\u03c3', true], [' = 10.58', false]].forEach(([t, italic]) => {
      ctx.font = (italic ? 'italic ' : '') + '13.89px ' + FONT;
      ctx.fillText(t, x, 76);
      x += ctx.measureText(t).width;
    });
    ctx.restore();
  }
};

new Chart(document.getElementById('myChart').getContext('2d'), {
  type: 'scatter',
  data: {
    datasets: [{
      label: 'Samples',
      data: points,
      backgroundColor: '#000',
      borderWidth: 0,
      pointRadius: 2.85
    }]
  },
  options: {
    responsive: false,
    animation: false,
    layout: { padding: { left: 0, right: 15, top: 0, bottom: 0 } },
    plugins: {
      legend: { display: false },
      tooltip: { enabled: false },
      title: {
        display: true,
        text: titleText,
        color: '#000',
        font: { family: FONT, size: 16.67, weight: 'normal', lineHeight: 1.2 },
        padding: { top: 13, bottom: 2 }
      }
    },
    scales: {
      x: {
        type: 'linear',
        min: -497,
        max: 10341,
        afterBuildTicks: s => { s.ticks = xTicks.map(v => ({ value: v })); },
        afterFit: s => { s.height = 57; },
        grid: { color: '#b0b0b0', lineWidth: 1, tickColor: '#000', tickLength: 4 },
        border: { display: false },
        ticks: { color: '#000', maxRotation: 0, padding: 4, font: { family: FONT, size: 13.89 }, callback: v => String(v) },
        title: { display: true, text: xLabel, color: '#000', font: { family: FONT, size: 13.89 }, padding: { top: 0, bottom: 13 } }
      },
      y: {
        type: 'linear',
        min: 5999.123,
        max: 6082.907,
        afterBuildTicks: s => { s.ticks = yTicks.map(v => ({ value: v })); },
        afterFit: s => { s.width = 80; },
        grid: { color: '#b0b0b0', lineWidth: 1, tickColor: '#000', tickLength: 4 },
        border: { display: false },
        ticks: { color: '#000', padding: 6, font: { family: FONT, size: 13.89 }, callback: v => String(v) },
        title: { display: true, text: yLabel, color: '#000', font: { family: FONT, size: 13.89 }, padding: { top: 12, bottom: 0 } }
      }
    }
  },
  plugins: [frame]
});
</script>
</body>
</html>
